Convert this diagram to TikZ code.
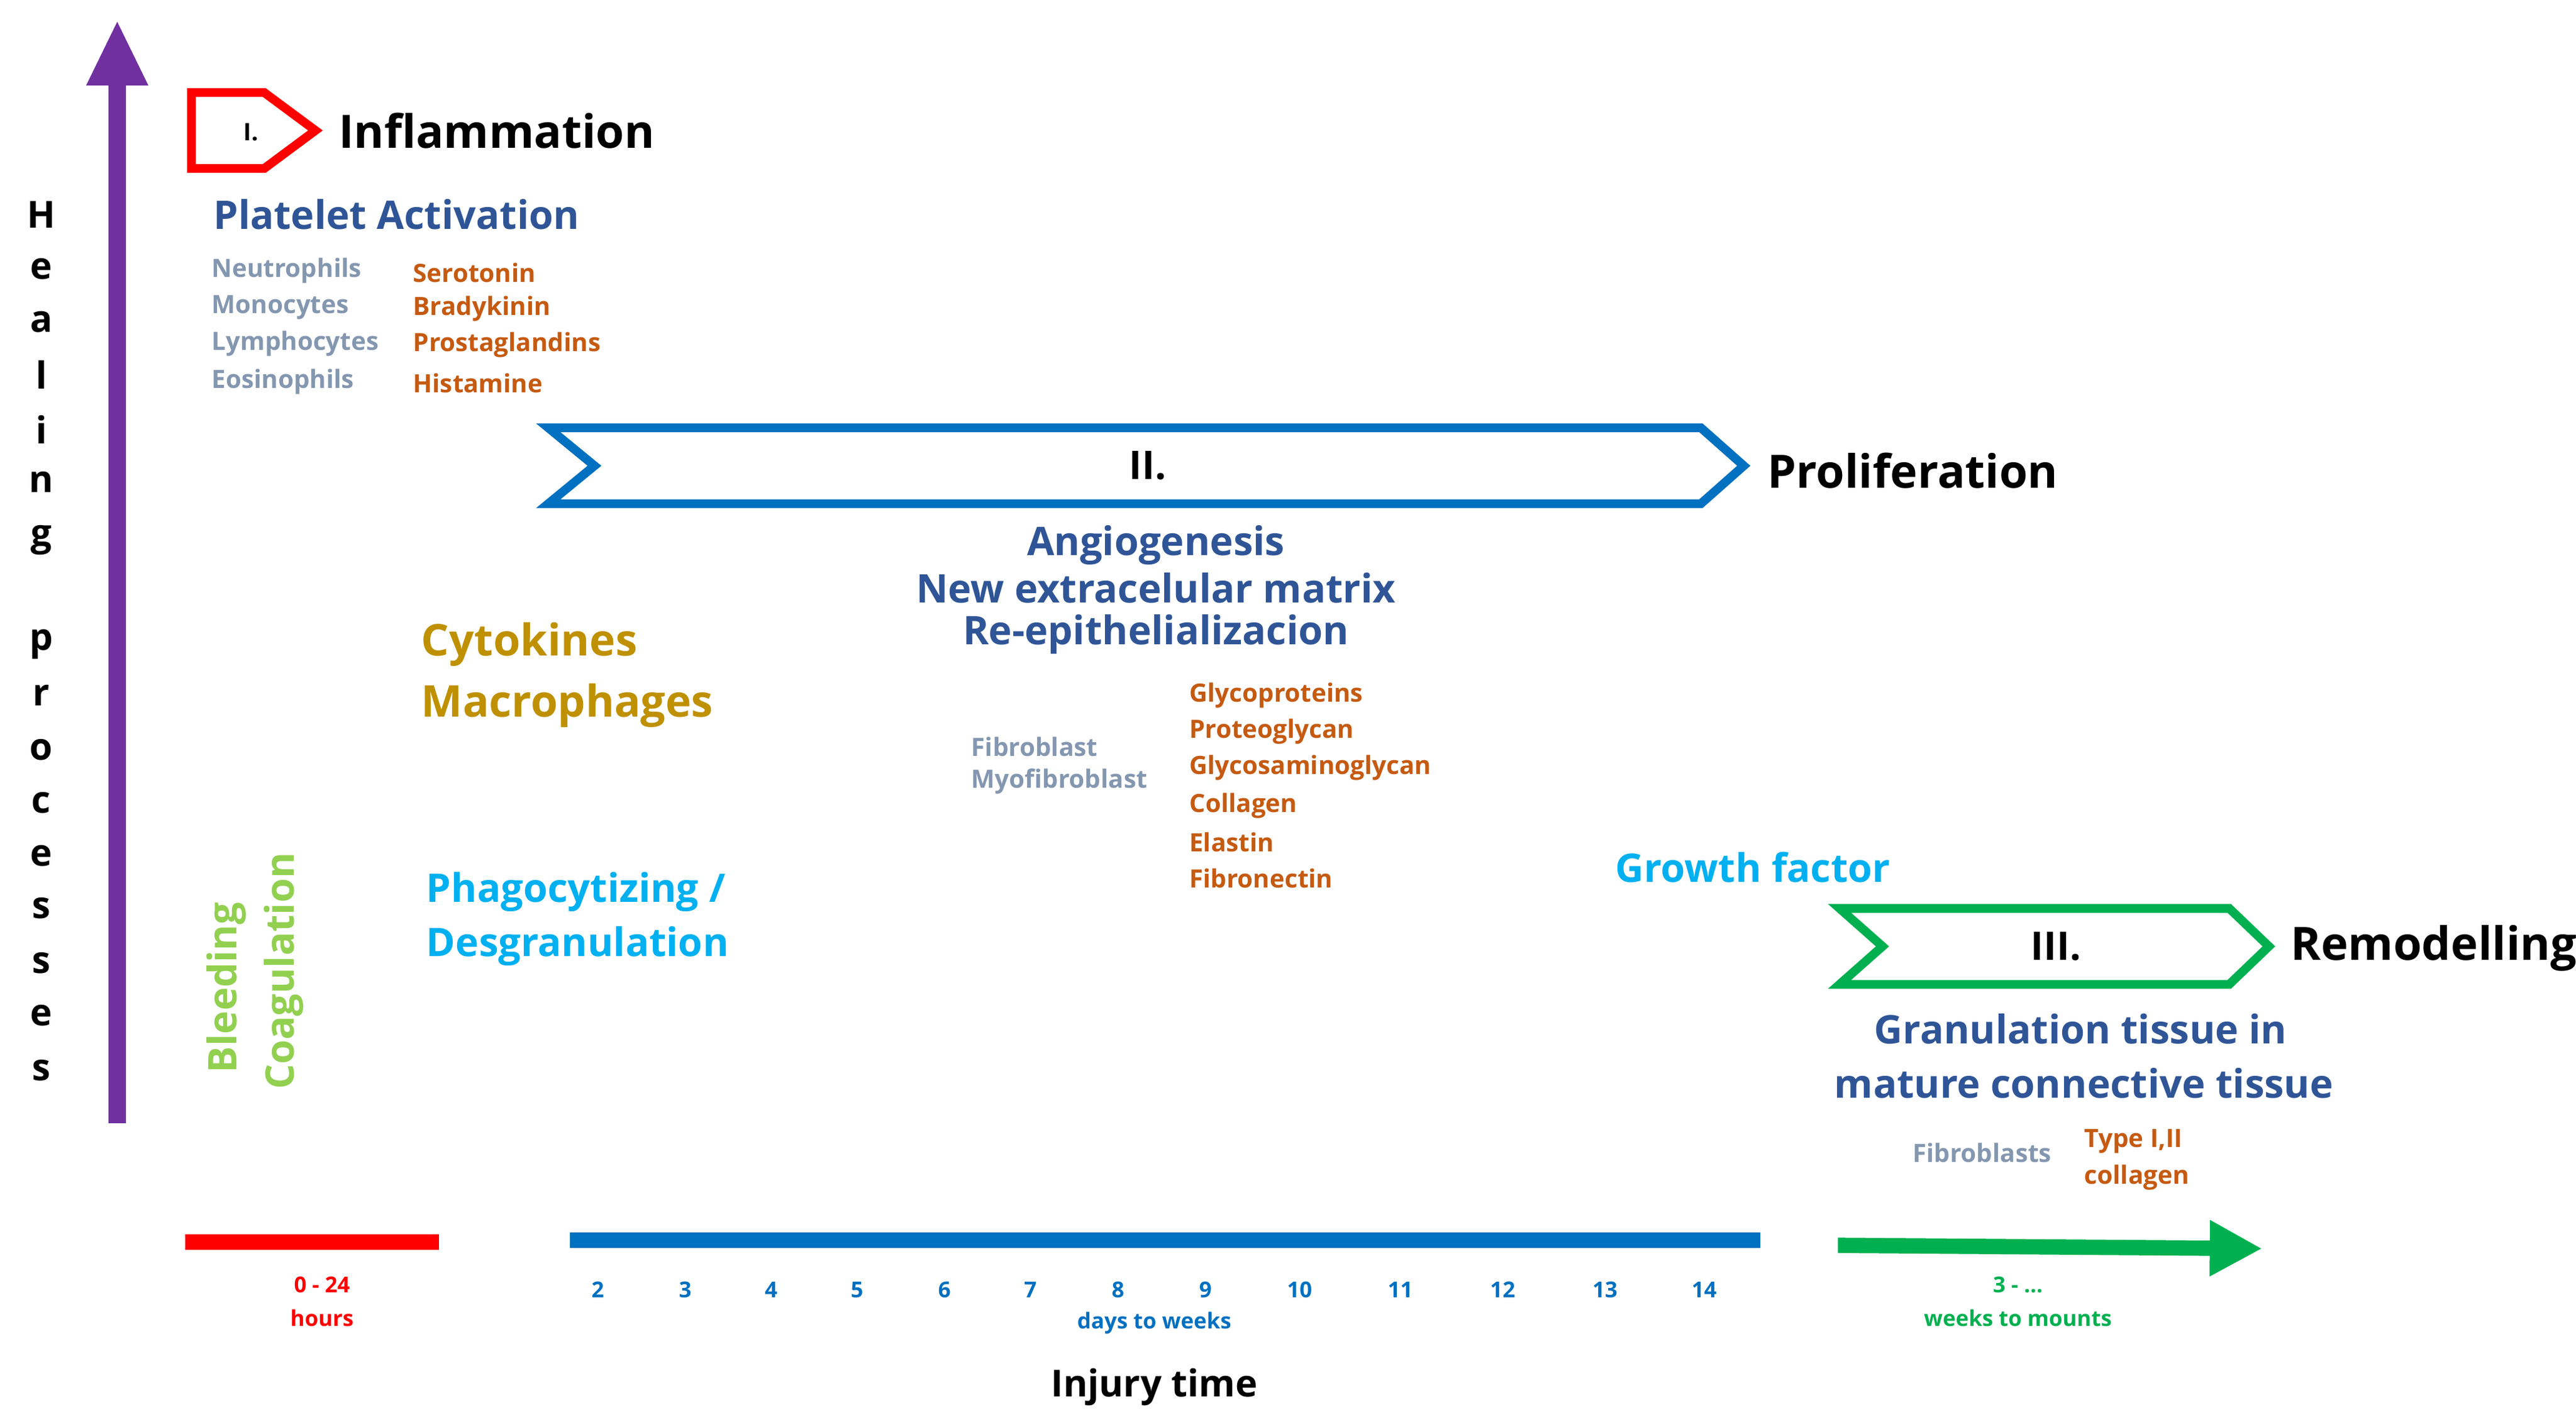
\documentclass[tikz,border=0pt]{standalone}
\usepackage{fontspec}
\setmainfont{Open Sans}
\usetikzlibrary{arrows.meta}
\definecolor{hpurple}{RGB}{112,48,160}
\definecolor{hred}{RGB}{255,0,0}
\definecolor{hblue}{RGB}{0,112,192}
\definecolor{hdark}{RGB}{47,85,151}
\definecolor{hgray}{RGB}{132,151,176}
\definecolor{horange}{RGB}{197,90,17}
\definecolor{hgold}{RGB}{191,144,0}
\definecolor{hcyan}{RGB}{0,176,240}
\definecolor{hlgreen}{RGB}{146,208,80}
\definecolor{hgreen}{RGB}{0,176,80}
\newcommand{\fs}[1]{\fontsize{#1}{#1}\selectfont\bfseries}
\begin{document}
\begin{tikzpicture}[x=0.0265cm,y=-0.0265cm,
    every node/.style={inner sep=0pt},
    title/.style={font=\fs{21}, anchor=west},
    head/.style={font=\fs{18}, text=hdark},
    cell/.style={font=\fs{11.5}, text=hgray, anchor=west},
    agent/.style={font=\fs{11.5}, text=horange, anchor=west},
    tick/.style={font=\fs{10}, text=hblue},
    phase/.style={line width=4pt, line join=miter}]
\useasboundingbox (0,0) rectangle (1560,864);

% healing axis
\coordinate (ax0) at (71,680);
\coordinate (ax1) at (71,12);
\draw[hpurple, line width=8pt, -{Triangle[length=30pt,width=26pt]}] (ax0) -- (ax1);
\foreach \ch/\y in {H/130,e/163,a/195,l/227,i/260,n/292,g/327,p/390,r/421,o/454,c/486,e/518,s/550,s/583,e/615,s/648}
    \node[font=\fs{17}] at (25,\y) {\ch};

% phase I
\draw[hred, phase] (116,56) -- (160,56) -- (191,79) -- (160,102) -- (116,102) -- cycle;
\node[font=\fs{11}] (p1) at (152,80) {I.};
\node[title] (infl) at (205,79) {Inflammation};
\node[head, anchor=west] (plat) at (129,130) {Platelet Activation};
\foreach \t/\y in {Neutrophils/164,Monocytes/186,Lymphocytes/208,Eosinophils/231}
    \node[cell] at (128,\y) {\t};
\foreach \t/\y in {Serotonin/165,Bradykinin/187,Prostaglandins/209,Histamine/232}
    \node[agent] at (250,\y) {\t};

% phase II
\draw[hblue, phase] (332,259) -- (1030,259) -- (1056,282) -- (1030,305) -- (332,305) -- (360,282) -- cycle;
\node[font=\fs{18}] (p2) at (695,282) {II.};
\node[title] (prol) at (1070,285) {Proliferation};
\node[head] (ang) at (700,330) {Angiogenesis};
\node[head] (ecm) at (700,356) {New extracelular matrix};
\node[head] (epi) at (700,384) {Re-epithelializacion};
\node[font=\fs{20}, text=hgold, anchor=west] (cyt) at (255,390) {Cytokines};
\node[font=\fs{20}, text=hgold, anchor=west] (mac) at (255,427) {Macrophages};
\node[cell] at (588,452) {Fibroblast};
\node[cell] at (588,473) {Myofibroblast};
\foreach \t/\y in {Glycoproteins/421,Proteoglycan/443,Glycosaminoglycan/465,Collagen/488,Elastin/510,Fibronectin/532}
    \node[agent] at (720,\y) {\t};
\node[head, text=hcyan, anchor=west] (gf) at (978,525) {Growth factor};
\node[head, text=hcyan, anchor=west] (phag) at (258,540) {Phagocytizing~/};
\node[head, text=hcyan, anchor=west] (desg) at (258,573) {Desgranulation};
\node[head, text=hlgreen, rotate=90] (bleed) at (137,598) {Bleeding};
\node[head, text=hlgreen, rotate=90] (coag) at (172,588) {Coagulation};

% phase III
\draw[hgreen, phase] (1114,550) -- (1350,550) -- (1374,573) -- (1350,596) -- (1114,596) -- (1140,573) -- cycle;
\node[font=\fs{18}] (p3) at (1245,573) {III.};
\node[title] (remo) at (1387,574) {Remodelling};
\node[head] (gran) at (1260,623) {Granulation tissue in};
\node[head] (matu) at (1262,656) {mature connective tissue};
\node[cell] at (1158,698) {Fibroblasts};
\node[agent] at (1262,691) {Type I,II};
\node[agent] at (1262,713) {collagen};

% time axis
\coordinate (r0) at (112,752); \coordinate (r1) at (266,752);
\coordinate (b0) at (345,751); \coordinate (b1) at (1066,751);
\coordinate (g0) at (1113,754); \coordinate (g1) at (1370,756);
\draw[hred, line width=7pt] (r0) -- (r1);
\draw[hblue, line width=7pt] (b0) -- (b1);
\draw[hgreen, line width=7pt, -{Triangle[length=24pt,width=24pt]}] (g0) -- (g1);
\node[font=\fs{10}, text=hred] at (195,778) {0 - 24};
\node[font=\fs{10}, text=hred] at (195,798) {hours};
\foreach \n/\x in {2/362,3/415,4/467,5/519,6/572,7/624,8/677,9/730,10/787,11/848,12/910,13/972,14/1032}
    \node[tick] at (\x,781) {\n};
\node[tick] (dw) at (699,801) {days to weeks};
\node[font=\fs{10}, text=hgreen] at (1222,778) {3 - ...};
\node[font=\fs{10}, text=hgreen] (wm) at (1222,798) {weeks to mounts};
\node[font=\fs{17}] (inj) at (699,840) {Injury time};
\end{tikzpicture}
\end{document}
